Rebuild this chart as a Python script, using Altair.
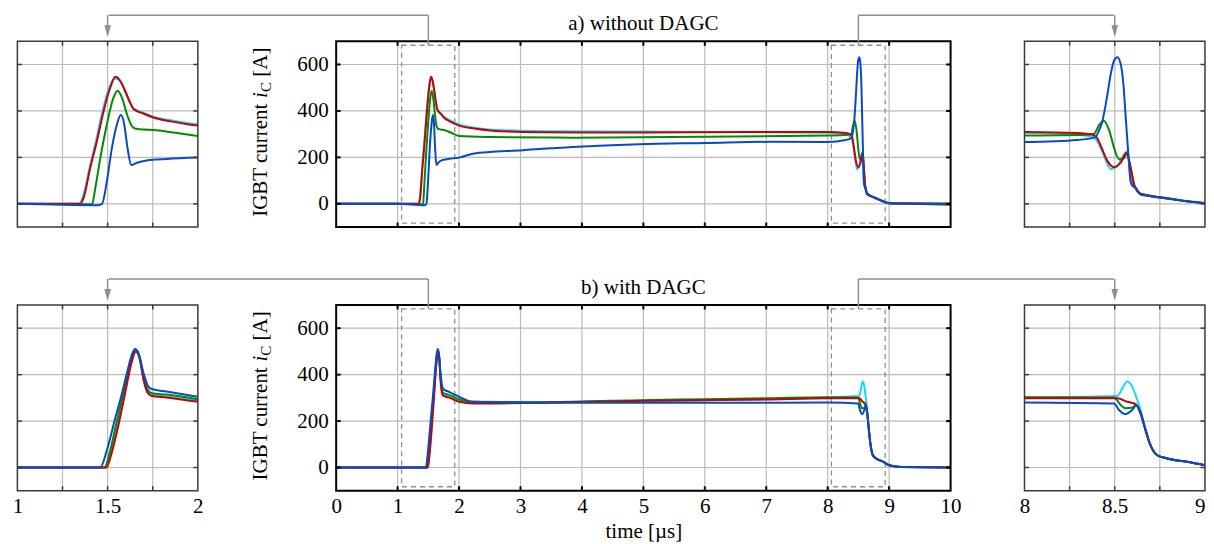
import altair as alt
import pandas as pd

# ---------------- data ----------------
# a) without DAGC
a_cyan_t = [0.0, 1.0, 1.34, 1.36, 1.40, 1.435, 1.472, 1.51, 1.545, 1.565, 1.595, 1.625, 1.645, 1.70, 1.75,
            1.85, 1.95, 2.0, 2.25, 2.5, 3.0, 3.5, 5.0, 6.5, 8.0, 8.29, 8.38, 8.41, 8.441, 8.478, 8.515,
            8.551, 8.574, 8.588, 8.60, 8.616, 8.643, 8.70, 8.80, 8.90, 9.0, 9.3, 10.0]
a_cyan_v = [0, 0, 0, 25, 155, 270, 400, 505, 540, 532, 485, 432, 410, 392, 376,
            360, 347, 342, 328, 320, 315, 313, 311, 309, 306, 298, 288, 260, 206, 149, 163,
            213, 228, 98, 76, 69, 42, 34, 24, 12, 4, 1, 0]

a_red_t = [0.0, 1.0, 1.349, 1.367, 1.404, 1.441, 1.478, 1.515, 1.542, 1.570, 1.597, 1.625, 1.643, 1.70,
           1.753, 1.85, 1.95, 2.0, 2.25, 2.5, 3.3, 4.0, 5.0, 6.0, 7.0, 8.0, 8.294, 8.36, 8.395, 8.423,
           8.46, 8.496, 8.533, 8.566, 8.588, 8.607, 8.634, 8.662, 8.75, 8.85, 9.0, 9.3, 10.0]
a_red_v = [0, 0, 0, 26, 156, 271, 400, 501, 547, 530, 487, 436, 408, 388,
           372, 355, 342, 337, 324, 316, 308, 307, 307, 308, 309, 309, 305, 300, 292, 249,
           184, 158, 177, 220, 156, 84, 48, 40, 28, 16, 3, 1, 0]

a_green_t = [0.0, 1.0, 1.40, 1.414, 1.432, 1.46, 1.496, 1.533, 1.555, 1.579, 1.607, 1.634, 1.652, 1.70,
             1.753, 1.864, 2.0, 2.5, 3.85, 6.0, 8.0, 8.3, 8.386, 8.414, 8.441, 8.469, 8.496, 8.524,
             8.551, 8.566, 8.588, 8.607, 8.634, 8.662, 8.75, 8.85, 9.0, 9.3, 10.0]
a_green_v = [0, 0, -2, 0, 69, 199, 343, 458, 487, 458, 386, 335, 324, 320,
             318, 307, 292, 288, 285, 289, 294, 296, 302, 340, 357, 317, 242, 192,
             196, 215, 156, 84, 48, 40, 28, 16, 2, 0, -4]

a_blue_t = [0.0, 1.0, 1.441, 1.469, 1.496, 1.524, 1.552, 1.573, 1.592, 1.61, 1.631, 1.662, 1.717, 1.827,
            2.0, 2.225, 3.04, 3.85, 4.93, 6.01, 7.09, 8.0, 8.294, 8.386, 8.41, 8.432, 8.46, 8.478,
            8.496, 8.515, 8.533, 8.548, 8.561, 8.574, 8.588, 8.600, 8.616, 8.643, 8.70, 8.80, 8.90,
            9.0, 9.3, 10.0]
a_blue_v = [0, 0, -6, 0, 98, 242, 343, 382, 343, 242, 167, 177, 187, 193,
            199, 216, 231, 245, 257, 262, 267, 266, 275, 285, 310, 357, 473, 559,
            616, 631, 602, 516, 372, 228, 98, 76, 69, 40, 33, 22, 11,
            3, 1, 0]

# b) with DAGC
b_cyan_t = [0.0, 1.0, 1.488, 1.52, 1.555, 1.593, 1.63, 1.654, 1.673, 1.70, 1.73, 1.745, 1.827, 2.0, 2.23,
            3.3, 5.0, 7.0, 8.0, 8.515, 8.542, 8.57, 8.597, 8.625, 8.643, 8.671, 8.698, 8.735, 8.79,
            8.9, 9.0, 9.2, 10.0]
b_cyan_v = [0, 0, 0, 72, 187, 320, 452, 503, 484, 395, 330, 314, 306, 288, 279,
            280, 286, 294, 302, 308, 341, 370, 348, 291, 250, 161, 96, 53, 39,
            25, 10, 2, 0]

b_green_t = [0.0, 1.0, 1.482, 1.515, 1.548, 1.588, 1.625, 1.652, 1.671, 1.699, 1.726, 1.745, 1.827, 2.0,
             2.23, 3.3, 4.93, 6.0, 7.0, 8.0, 8.496, 8.533, 8.56, 8.597, 8.616, 8.643, 8.671, 8.698,
             8.735, 8.79, 8.9, 9.0, 9.2, 10.0]
b_green_v = [0, 0, 0, 75, 190, 320, 449, 505, 486, 384, 327, 320, 314, 294,
             283, 281, 290, 294, 298, 303, 302, 269, 255, 257, 269, 235, 161, 96,
             53, 39, 25, 10, 2, 0]

b_red_t = [0.0, 1.0, 1.493, 1.524, 1.56, 1.597, 1.634, 1.656, 1.676, 1.702, 1.726, 1.745, 1.827, 2.0,
           2.23, 3.3, 5.0, 7.0, 8.0, 8.515, 8.57, 8.616, 8.643, 8.671, 8.698, 8.735, 8.79, 8.9,
           9.0, 9.2, 10.0]
b_red_v = [0, 0, 0, 67, 183, 320, 456, 500, 478, 367, 317, 308, 302, 283,
           276, 279, 287, 293, 298, 298, 283, 273, 235, 161, 96, 53, 39, 25,
           10, 2, 0]

b_blue_t = [0.0, 1.0, 1.459, 1.496, 1.542, 1.570, 1.607, 1.634, 1.652, 1.671, 1.699, 1.726, 1.745, 1.827,
            2.0, 2.23, 3.3, 5.0, 7.09, 8.0, 8.496, 8.524, 8.56, 8.597, 8.621, 8.643, 8.671, 8.698,
            8.735, 8.79, 8.9, 9.0, 9.2, 10.0]
b_blue_v = [0, 0, 0, 75, 212, 291, 406, 485, 510, 493, 406, 348, 338, 327,
            305, 283, 279, 279, 279, 280, 276, 248, 230, 248, 269, 232, 161, 96,
            53, 39, 25, 10, 2, 0]

series_order = ["cyan", "green", "red", "blue"]
series_colors = {"cyan": "#14D8FF", "green": "#008C00", "red": "#C80000", "blue": "#0A48C8"}

y_ticks = [0, 200, 400, 600]
y_domain = [-100, 700]
titles = {"a": "a) without DAGC", "b": "b) with DAGC"}
x_label = "time [µs]"
zoom_boxes = {"x1": [1.065, 8.06], "x2": [1.93, 8.935]}
zoom_centres = [1.5, 8.5]

# ---------------- build tables ----------------
def long_table(parts):
    frames = []
    for name, (t, v) in parts.items():
        frames.append(pd.DataFrame({"t": t, "v": v, "s": name}))
    return pd.concat(frames, ignore_index=True)

data = {
    "a": long_table({"cyan": (a_cyan_t, a_cyan_v), "green": (a_green_t, a_green_v),
                     "red": (a_red_t, a_red_v), "blue": (a_blue_t, a_blue_v)}),
    "b": long_table({"cyan": (b_cyan_t, b_cyan_v), "green": (b_green_t, b_green_v),
                     "red": (b_red_t, b_red_v), "blue": (b_blue_t, b_blue_v)}),
}

# ---------------- layout / style ----------------
FONT = "Liberation Serif"
FS = 21
SX = 0.9965   # slight horizontal squeeze so the whole figure fits the 1198 px container
WL, WL_EXTRA, WM, WR, H = 181.3 * SX, 64.6 * SX, 617.3 * SX, 181.3 * SX, 186
COLSP, ROWSP = 73.4 * SX, 78
TL = 4.5
GRID = "#bababa"
CONN = "#8f8f8f"
TRI = "M -0.55 -1 L 0.55 -1 L 0 1 Z"
one = pd.DataFrame({"k": [0]})

panel_cfg = {
    "left": dict(dom=[1, 2], wplot=WL, wchart=WL + WL_EXTRA, xt=[1.25, 1.5, 1.75], xl=[1, 1.5, 2],
                 fc="#3a3a3a", fw=1.5),
    "main": dict(dom=[0, 10], wplot=WM, wchart=WM, xt=list(range(1, 10)), xl=list(range(0, 11)),
                 fc="#000000", fw=2),
    "right": dict(dom=[8, 9], wplot=WR, wchart=WR, xt=[8.25, 8.5, 8.75], xl=[8, 8.5, 9],
                  fc="#3a3a3a", fw=1.5),
}

# pixel positions of the zoom centres, relative to the main panel's origin
main_origin = WL + WL_EXTRA + COLSP
left_centre_px = (zoom_centres[0] - 1) * WL - main_origin
right_centre_px = WM + COLSP + (zoom_centres[1] - 8) * WR

axis_text = dict(labelFont=FONT, labelFontSize=FS, labelColor="black",
                 titleFont=FONT, titleFontSize=FS, titleFontWeight="normal", titleColor="black")


def panel(kind, row, bottom):
    c = panel_cfg[kind]
    xs = alt.Scale(domain=c["dom"], range=[0, c["wplot"]], nice=False, zero=False)
    ys = alt.Scale(domain=y_domain, nice=False, zero=False)

    if bottom:
        extra = {}
        if kind == "right":
            extra["labelAlign"] = {"condition": {"test": "datum.value == 9", "value": "right"},
                                   "value": "center"}
        xaxis = alt.Axis(values=c["xl"], format="~f", grid=False, ticks=False, domain=False,
                         labelPadding=5, labelFlush=False, labelOverlap=False,
                         title=(x_label if kind == "main" else None), titlePadding=4,
                         **axis_text, **extra)
    else:
        xaxis = None
    if kind == "main":
        yaxis = alt.Axis(values=y_ticks, format="~f", grid=False, ticks=False, domain=False,
                         labelPadding=8, labelOverlap=False, title=None, **axis_text)
    else:
        yaxis = None

    def X(field, **kw):
        return alt.X(field, scale=xs, axis=xaxis, **kw)

    def Y(field, **kw):
        return alt.Y(field, scale=ys, axis=yaxis, **kw)

    layers = []
    layers.append(alt.Chart(pd.DataFrame({"x": c["xt"]})).mark_rule(color=GRID, strokeWidth=1.2).encode(
        x=X("x:Q"), y=alt.value(0), y2=alt.value(H)))
    layers.append(alt.Chart(pd.DataFrame({"y": y_ticks})).mark_rule(color=GRID, strokeWidth=1.2).encode(
        y=Y("y:Q"), x=alt.value(0), x2=alt.value(c["wplot"])))

    if kind == "main":
        layers.append(alt.Chart(pd.DataFrame(zoom_boxes)).mark_rect(
            fill="transparent", stroke=CONN, strokeDash=[5, 4], strokeWidth=1.3).encode(
            x=X("x1:Q"), x2="x2:Q", y=alt.value(4), y2=alt.value(H - 4)))

    lo, hi = c["dom"]
    for s in series_order:
        layers.append(alt.Chart(data[row]).transform_filter(
            (alt.datum.s == s) & (alt.datum.t >= lo) & (alt.datum.t <= hi)
        ).mark_line(color=series_colors[s], strokeWidth=2, interpolate="monotone", clip=True).encode(
            x=X("t:Q"), y=Y("v:Q")))

    fc, fw = c["fc"], c["fw"]
    xt = pd.DataFrame({"x": c["xt"]})
    yt = pd.DataFrame({"y": y_ticks})
    layers.append(alt.Chart(xt).mark_rule(color=fc, strokeWidth=fw).encode(
        x=X("x:Q"), y=alt.value(0), y2=alt.value(TL)))
    layers.append(alt.Chart(xt).mark_rule(color=fc, strokeWidth=fw).encode(
        x=X("x:Q"), y=alt.value(H), y2=alt.value(H - TL)))
    layers.append(alt.Chart(yt).mark_rule(color=fc, strokeWidth=fw).encode(
        y=Y("y:Q"), x=alt.value(0), x2=alt.value(TL)))
    layers.append(alt.Chart(yt).mark_rule(color=fc, strokeWidth=fw).encode(
        y=Y("y:Q"), x=alt.value(c["wplot"]), x2=alt.value(c["wplot"] - TL)))
    layers.append(alt.Chart(one).mark_rect(fill="transparent", stroke=fc, strokeWidth=fw).encode(
        x=alt.value(0), x2=alt.value(c["wplot"]), y=alt.value(0), y2=alt.value(H)))

    if kind == "main":
        layers.append(alt.Chart(pd.DataFrame({"x": zoom_centres})).mark_rule(color=CONN, strokeWidth=1.5).encode(
            x=X("x:Q"), y=alt.value(-26), y2=alt.value(4)))
        layers.append(alt.Chart(pd.DataFrame({"x": [zoom_centres[0]]})).mark_rule(color=CONN, strokeWidth=1.5).encode(
            x=X("x:Q"), x2=alt.value(left_centre_px), y=alt.value(-26)))
        layers.append(alt.Chart(pd.DataFrame({"x": [zoom_centres[1]]})).mark_rule(color=CONN, strokeWidth=1.5).encode(
            x=X("x:Q"), x2=alt.value(right_centre_px), y=alt.value(-26)))
        layers.append(alt.Chart(one).mark_text(text=titles[row], font=FONT, fontSize=FS, align="center",
                                               baseline="alphabetic", color="black").encode(
            x=alt.value(WM / 2), y=alt.value(-11)))
        # y title: "IGBT current i_C [A]"
        pieces = [("IGBT current", FS, "normal", 0, 0),
                  ("i", FS, "italic", 119.0, 0),
                  ("C", 15, "normal", 124.9, 4),
                  ("[A]", FS, "normal", 140.2, 0)]
        for txt, size, style, dx, dy in pieces:
            layers.append(alt.Chart(one).mark_text(text=txt, font=FONT, fontSize=size, fontStyle=style,
                                                   angle=270, align="left", baseline="alphabetic",
                                                   dx=dx, dy=dy, color="black").encode(
                x=alt.value(-69), y=alt.value(175.7)))
    else:
        centre = zoom_centres[0] if kind == "left" else zoom_centres[1]
        cd = pd.DataFrame({"x": [centre]})
        layers.append(alt.Chart(cd).mark_rule(color=CONN, strokeWidth=1.5).encode(
            x=X("x:Q"), y=alt.value(-26), y2=alt.value(-15)))
        layers.append(alt.Chart(cd).mark_point(shape=TRI, filled=True, size=144, color=CONN, opacity=1,
                                               strokeWidth=0).encode(
            x=X("x:Q"), y=alt.value(-10)))

    return alt.layer(*layers).properties(width=c["wchart"], height=H)


chart = alt.concat(
    panel("left", "a", False), panel("main", "a", False), panel("right", "a", False),
    panel("left", "b", True), panel("main", "b", True), panel("right", "b", True),
    columns=3, spacing={"row": ROWSP, "column": COLSP}, bounds="flush", align="each",
).properties(
    padding={"left": 3.4, "top": 5, "right": 0, "bottom": 0}
).configure_view(
    strokeWidth=0
).configure_axis(**axis_text)

chart.save("out.html", embed_options={"renderer": "svg", "actions": False})
